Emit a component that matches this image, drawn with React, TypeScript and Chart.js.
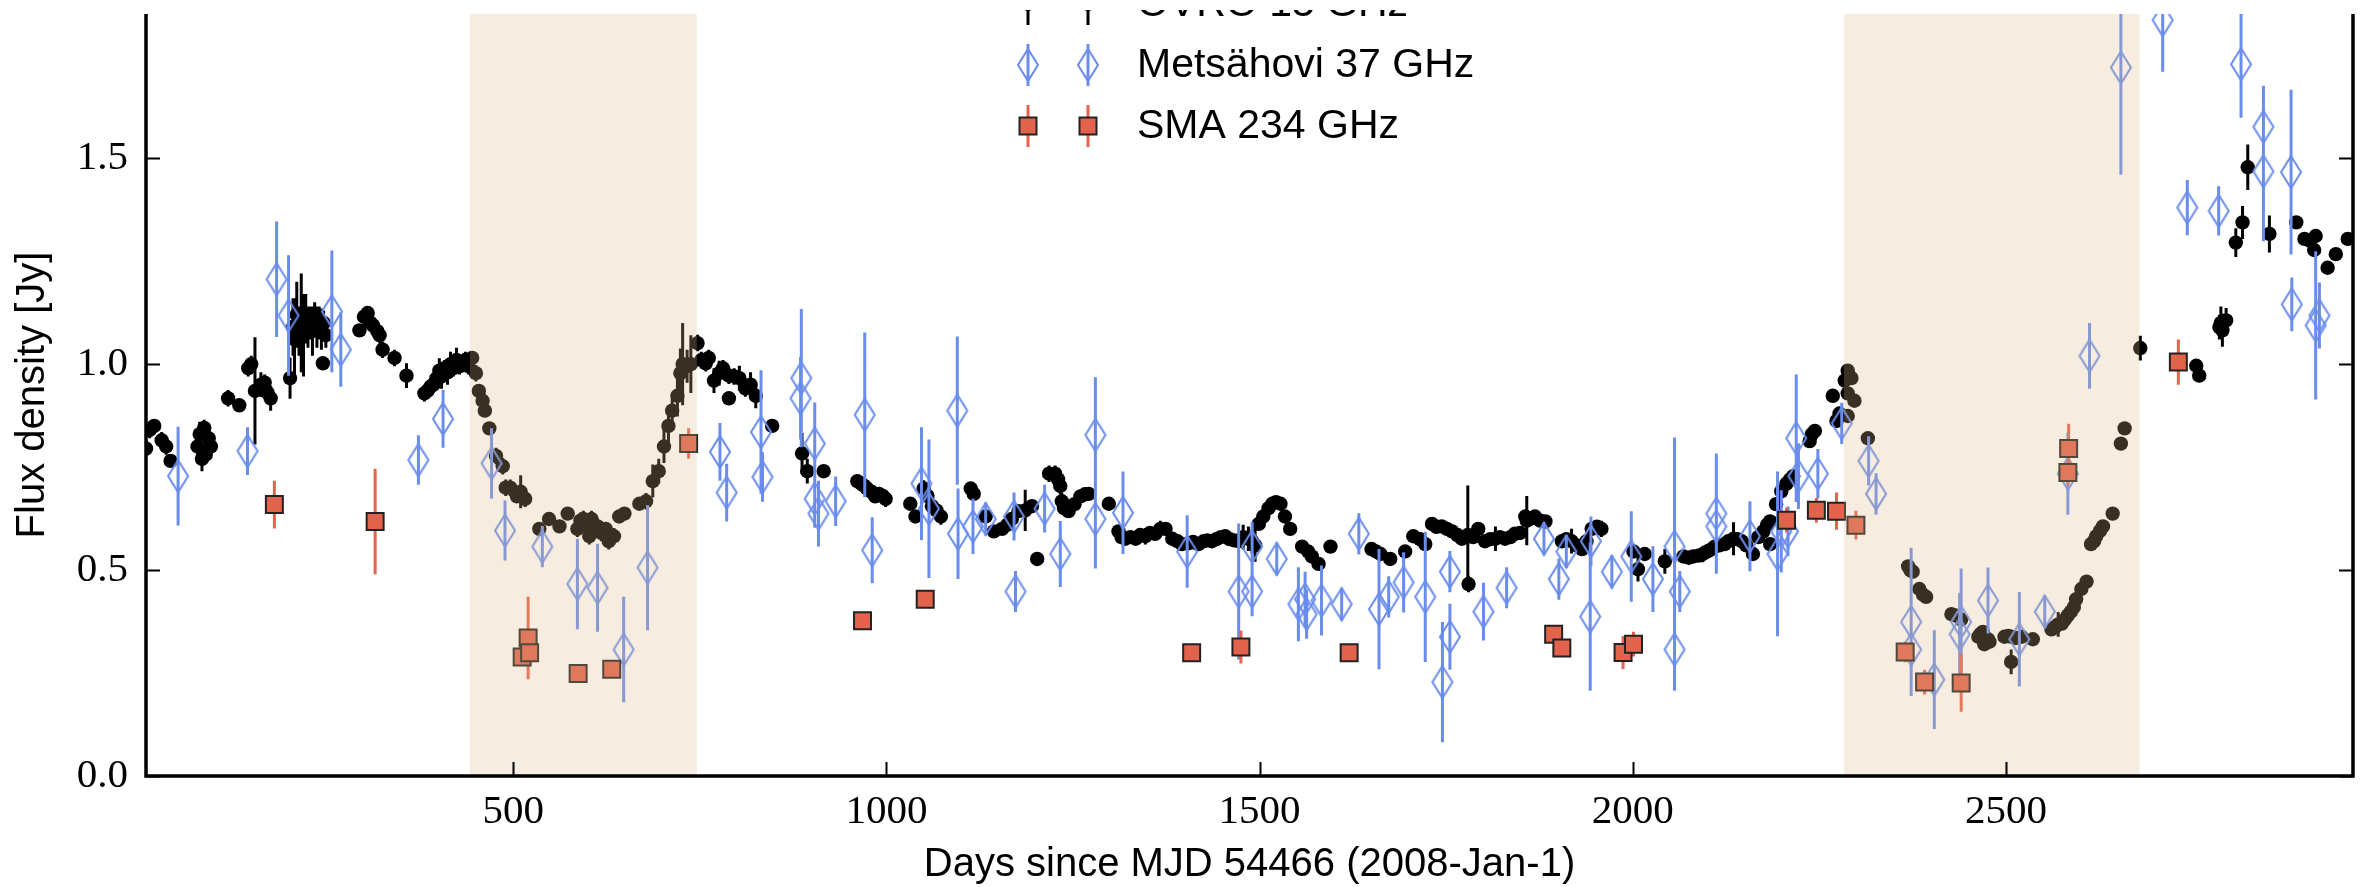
import React, { useEffect, useRef } from 'react';
import { Chart, registerables } from 'chart.js';

Chart.register(...registerables);

// [day, flux density (Jy), error]
const ovro: [number, number, number][] = [
  [8,0.795,0.02],[13,0.84,0.02],[19,0.85,0.015],[29,0.815,0.02],[35,0.80,0.02],[41,0.765,0.015],[77,0.80,0.02],[80,0.83,0.03],[83,0.77,0.03],[86,0.845,0.02],[88,0.78,0.02],[92,0.82,0.03],[95,0.80,0.02],
  [118,0.917,0.02],[133,0.90,0.012],[145,0.99,0.02],[149,1.0,0.02],[154,0.935,0.13],[162,0.95,0.03],[167,0.955,0.02],[171,0.93,0.02],[175,0.917,0.03],
  [201,0.966,0.05],[205,1.09,0.07],[207,1.06,0.1],[210,1.12,0.08],[213,1.08,0.06],[216,1.10,0.12],[219,1.07,0.1],[222,1.11,0.06],[225,1.09,0.05],[228,1.10,0.04],[231,1.08,0.06],[234,1.11,0.04],[237,1.09,0.05],[240,1.10,0.04],[243,1.085,0.05],[246,1.1,0.03],[249,1.07,0.03],[245,1.002,0.015],
  [294,1.082,0.015],[300,1.115,0.02],[305,1.124,0.015],[309,1.10,0.02],[312,1.094,0.02],[318,1.08,0.02],[321,1.07,0.02],[325,1.035,0.02],[341,1.015,0.02],[357,0.972,0.03],
  [381,0.929,0.02],[385,0.935,0.02],[389,0.945,0.02],[393,0.95,0.02],[397,0.965,0.02],[401,0.984,0.03],[404,0.97,0.03],[408,0.99,0.02],[412,0.98,0.03],[416,1.0,0.03],[420,0.99,0.02],[424,1.01,0.03],[428,0.995,0.02],[432,1.0,0.02],[436,1.01,0.02],[440,0.995,0.02],[445,1.015,0.015],
  [450,0.978,0.02],[454,0.935,0.015],[459,0.911,0.015],[462,0.887,0.015],[468,0.844,0.015],[477,0.777,0.02],[486,0.752,0.02],[490,0.70,0.02],[496,0.70,0.02],[505,0.679,0.015],[510,0.69,0.04],[516,0.673,0.02],
  [535,0.60,0.015],[548,0.624,0.015],[562,0.606,0.015],[573,0.637,0.015],[586,0.60,0.02],[590,0.62,0.02],[594,0.624,0.02],[598,0.61,0.02],[602,0.582,0.02],[605,0.624,0.02],[609,0.60,0.02],[613,0.606,0.02],[618,0.59,0.02],[624,0.60,0.015],[628,0.57,0.02],[635,0.582,0.02],[642,0.63,0.015],[649,0.637,0.015],[669,0.661,0.015],[678,0.667,0.02],[687,0.716,0.04],[695,0.74,0.03],[702,0.80,0.04],[708,0.85,0.05],[713,0.887,0.03],[720,0.923,0.05],[724,0.978,0.06],[727,1.0,0.1],[733,0.995,0.04],[738,1.0,0.07],[747,1.051,0.02],
  [752,1.01,0.02],[758,1.002,0.02],[762,1.015,0.02],[769,0.96,0.03],[776,0.978,0.03],[781,0.99,0.02],[789,0.972,0.02],[789,0.917,0.015],[796,0.97,0.02],[803,0.966,0.03],[811,0.941,0.02],[818,0.95,0.03],[825,0.923,0.03],[847,0.85,0.015],[887,0.783,0.05],[894,0.74,0.03],[916,0.74,0.015],
  [961,0.716,0.015],[966,0.71,0.015],[970,0.705,0.015],[974,0.698,0.02],[980,0.69,0.015],[985,0.679,0.015],[990,0.685,0.015],[995,0.68,0.015],[999,0.673,0.02],
  [1032,0.661,0.015],[1039,0.63,0.015],[1050,0.698,0.02],[1055,0.68,0.015],[1061,0.655,0.015],[1067,0.645,0.015],[1073,0.63,0.02],
  [1113,0.698,0.015],[1117,0.685,0.015],[1133,0.63,0.015],[1144,0.594,0.015],[1155,0.60,0.015],[1162,0.61,0.015],[1168,0.624,0.015],[1177,0.643,0.015],[1186,0.645,0.05],[1195,0.655,0.015],[1202,0.527,0.015],
  [1218,0.734,0.02],[1226,0.734,0.02],[1230,0.72,0.02],[1233,0.704,0.02],[1235,0.667,0.02],[1238,0.65,0.015],[1244,0.643,0.015],[1252,0.66,0.015],[1260,0.679,0.015],[1266,0.684,0.015],[1271,0.685,0.015],
  [1298,0.661,0.015],[1311,0.594,0.015],[1315,0.58,0.015],[1320,0.576,0.015],[1327,0.58,0.015],[1334,0.576,0.015],[1340,0.585,0.015],[1347,0.582,0.02],[1353,0.59,0.015],[1360,0.588,0.015],[1367,0.60,0.02],[1374,0.60,0.015],[1383,0.576,0.015],[1390,0.57,0.015],[1396,0.563,0.015],[1405,0.565,0.015],[1411,0.568,0.015],[1418,0.563,0.015],[1425,0.57,0.015],[1430,0.572,0.015],[1436,0.57,0.015],[1442,0.575,0.015],[1448,0.58,0.015],[1454,0.582,0.015],[1460,0.575,0.015],[1466,0.572,0.015],[1472,0.57,0.015],[1478,0.58,0.03],[1485,0.576,0.03],[1490,0.57,0.03],[1494,0.56,0.04],
  [1499,0.612,0.015],[1505,0.63,0.015],[1512,0.65,0.015],[1517,0.661,0.015],[1522,0.665,0.015],[1528,0.661,0.015],[1534,0.63,0.015],[1541,0.60,0.015],[1557,0.557,0.015],[1565,0.545,0.015],[1570,0.533,0.015],[1579,0.515,0.015],[1595,0.557,0.015],
  [1650,0.551,0.015],[1656,0.545,0.015],[1662,0.539,0.015],[1675,0.527,0.015],[1695,0.545,0.015],[1706,0.582,0.015],[1715,0.575,0.015],[1722,0.563,0.015],[1731,0.612,0.015],[1737,0.605,0.015],[1744,0.606,0.015],[1751,0.60,0.015],[1758,0.594,0.015],[1765,0.585,0.015],[1771,0.576,0.015],[1779,0.585,0.12],[1780,0.466,0.02],[1786,0.58,0.015],[1793,0.60,0.015],[1802,0.57,0.015],[1809,0.575,0.015],[1816,0.576,0.03],[1822,0.58,0.015],[1829,0.576,0.015],[1836,0.58,0.015],[1842,0.588,0.015],[1849,0.59,0.015],[1856,0.63,0.015],[1858,0.62,0.06],[1863,0.625,0.015],[1869,0.63,0.015],[1876,0.62,0.015],[1883,0.618,0.015],[1905,0.57,0.015],[1911,0.575,0.015],[1918,0.57,0.03],[1925,0.56,0.015],[1932,0.551,0.015],[1938,0.57,0.015],[1945,0.60,0.015],[1952,0.605,0.015],[1958,0.60,0.02],
  [2001,0.545,0.015],[2007,0.502,0.03],[2016,0.539,0.015],[2043,0.521,0.03],[2068,0.533,0.015],[2075,0.53,0.015],[2081,0.533,0.015],[2088,0.535,0.015],[2094,0.539,0.02],[2100,0.545,0.015],[2105,0.55,0.015],[2110,0.557,0.015],[2116,0.56,0.015],[2123,0.563,0.015],[2128,0.57,0.015],[2135,0.576,0.04],[2140,0.575,0.015],[2146,0.57,0.015],[2152,0.56,0.015],[2161,0.539,0.015],[2168,0.58,0.015],[2175,0.594,0.015],[2180,0.61,0.015],[2184,0.618,0.015],[2184,0.563,0.015],[2192,0.66,0.015],[2199,0.691,0.015],[2206,0.71,0.015],[2211,0.72,0.015],[2215,0.728,0.015],[2237,0.813,0.015],[2240,0.83,0.015],[2244,0.838,0.015],[2268,0.923,0.015],[2273,0.862,0.015],[2277,0.88,0.015],[2284,0.96,0.015],[2288,0.984,0.015],[2290,0.97,0.015],[2293,0.966,0.015],[2288,0.929,0.015],[2297,0.911,0.015],[2288,0.874,0.015],[2315,0.82,0.015],
  [2369,0.509,0.015],[2372,0.50,0.015],[2375,0.496,0.015],[2384,0.454,0.015],[2389,0.44,0.015],[2393,0.435,0.015],[2427,0.393,0.015],[2432,0.39,0.015],[2440,0.38,0.015],[2463,0.338,0.015],[2466,0.345,0.015],[2469,0.35,0.015],[2471,0.32,0.015],[2476,0.332,0.015],[2478,0.326,0.015],
  [2498,0.338,0.015],[2503,0.34,0.015],[2507,0.277,0.03],[2507,0.338,0.015],[2513,0.335,0.015],[2521,0.338,0.015],[2536,0.332,0.015],[2561,0.356,0.015],[2566,0.362,0.015],[2570,0.368,0.03],[2575,0.37,0.015],[2579,0.38,0.015],[2583,0.39,0.015],[2587,0.399,0.015],[2591,0.41,0.015],[2594,0.429,0.015],[2601,0.454,0.015],[2608,0.472,0.015],[2614,0.563,0.015],[2618,0.57,0.015],[2621,0.582,0.015],[2626,0.595,0.015],[2630,0.606,0.015],[2643,0.637,0.015],[2654,0.807,0.015],[2659,0.844,0.015],
  [2680,1.039,0.03],[2755,0.996,0.015],[2759,0.972,0.015],[2786,1.09,0.03],[2788,1.10,0.04],[2790,1.082,0.04],[2795,1.106,0.03],[2808,1.295,0.035],[2817,1.344,0.04],[2824,1.478,0.055],[2853,1.316,0.045],[2889,1.344,0.015],[2900,1.304,0.015],[2907,1.30,0.015],[2913,1.277,0.015],[2915,1.311,0.015],[2931,1.234,0.015],[2942,1.267,0.015],[2958,1.304,0.015],
];

const metsahovi: [number, number, number][] = [
  [51,0.728,0.12],[144,0.789,0.058],[183,1.206,0.14],[199,1.118,0.146],[257,1.128,0.148],[269,1.035,0.09],[373,0.767,0.06],[406,0.867,0.07],[471,0.759,0.085],[489,0.596,0.073],[539,0.557,0.05],[586,0.466,0.11],[613,0.457,0.107],[648,0.307,0.128],[680,0.506,0.152],[777,0.787,0.07],[786,0.688,0.07],[832,0.835,0.15],[834,0.726,0.06],[886,0.966,0.168],[885,0.917,0.1],[904,0.807,0.1],[904,0.673,0.07],[909,0.637,0.08],[932,0.667,0.06],[971,0.877,0.2],[981,0.548,0.08],
  [1047,0.71,0.137],[1057,0.649,0.168],[1095,0.887,0.18],[1096,0.588,0.11],[1116,0.606,0.067],[1133,0.624,0.04],[1173,0.448,0.05],[1171,0.63,0.058],[1212,0.649,0.058],[1233,0.539,0.08],[1280,0.828,0.14],[1280,0.624,0.12],[1317,0.639,0.1],[1403,0.545,0.088],[1472,0.448,0.165],[1490,0.557,0.06],[1490,0.448,0.06],
  [1523,0.527,0.04],[1552,0.417,0.09],[1561,0.429,0.067],[1563,0.393,0.06],[1583,0.426,0.085],[1610,0.417,0.04],[1633,0.588,0.05],[1660,0.405,0.146],[1673,0.435,0.05],[1693,0.47,0.073],[1722,0.435,0.158],[1745,0.228,0.146],[1755,0.338,0.08],[1755,0.496,0.05],[1800,0.399,0.07],[1831,0.457,0.05],[1881,0.576,0.04],[1901,0.478,0.05],[1911,0.545,0.04],[1943,0.387,0.18],[1944,0.57,0.06],[1972,0.496,0.04],
  [1998,0.533,0.11],[2027,0.478,0.08],[2056,0.557,0.265],[2056,0.307,0.1],[2063,0.448,0.05],[2112,0.637,0.146],[2112,0.606,0.07],[2157,0.582,0.085],[2194,0.539,0.2],[2199,0.594,0.1],[2208,0.594,0.06],[2219,0.82,0.155],[2222,0.728,0.08],[2248,0.734,0.06],[2280,0.856,0.05],[2316,0.765,0.06],[2326,0.685,0.05],[2373,0.374,0.18],[2373,0.307,0.1],[2404,0.234,0.12],[2440,0.374,0.13],[2438,0.344,0.1],[2476,0.426,0.08],
  [2518,0.332,0.115],[2552,0.399,0.04],[2583,0.734,0.1],[2612,1.02,0.08],[2654,1.72,0.26],[2710,1.835,0.125],[2743,1.38,0.067],[2785,1.372,0.06],[2815,1.728,0.13],[2845,1.576,0.1],[2845,1.468,0.17],[2882,1.466,0.2],[2883,1.145,0.065],[2915,1.094,0.18],[2920,1.118,0.08],
];

const sma: [number, number, number][] = [
  [180,0.659,0.058],[315,0.618,0.128],[512,0.289,0.02],[520,0.335,0.1],[522,0.299,0.02],[587,0.249,0.01],[632,0.259,0.012],[735,0.807,0.037],[968,0.377,0.02],[1052,0.429,0.02],[1409,0.299,0.01],[1475,0.313,0.04],[1620,0.299,0.02],[1894,0.344,0.01],[1905,0.311,0.01],[1987,0.30,0.04],[2001,0.32,0.03],[2206,0.621,0.03],[2246,0.645,0.03],[2273,0.643,0.045],[2299,0.609,0.035],[2365,0.301,0.025],[2391,0.228,0.03],[2440,0.226,0.07],[2583,0.737,0.03],[2584,0.795,0.06],[2731,1.005,0.055],
];

// shaded intervals [start day, end day]
const shadedSpans: [number, number][] = [[442, 746], [2283, 2679]];

const xTicks = [500, 1000, 1500, 2000, 2500];
const yTicks = [0.0, 0.5, 1.0, 1.5];
const xRange = [8, 2965];
const yRange = [0, 1.85];

const seriesLabels = ['OVRO 15 GHz', 'Metsähovi 37 GHz', 'SMA 234 GHz'];

const W = 2367;
const H = 887;
const BLUE = 'rgb(106,141,236)';
const RED_FILL = 'rgb(226,98,76)';
const RED_ERR = 'rgb(232,98,78)';
const SANS = "'Liberation Sans', Arial, Helvetica, sans-serif";
const SERIF = "'Liberation Serif', 'DejaVu Serif', serif";

function makeDiamond(): HTMLCanvasElement {
  const c = document.createElement('canvas');
  c.width = 26; c.height = 38;
  const g = c.getContext('2d')!;
  g.strokeStyle = BLUE;
  g.lineWidth = 2;
  g.beginPath();
  g.moveTo(13, 3); g.lineTo(23, 19); g.lineTo(13, 35); g.lineTo(3, 19); g.closePath();
  g.stroke();
  return c;
}

export default function App() {
  const ref = useRef<HTMLCanvasElement>(null);
  useEffect(() => {
    const canvas = ref.current!;
    const diamond = makeDiamond();

    const errorBars = {
      id: 'errorBars',
      beforeDatasetDraw(chart: any, args: any) {
        const ds = chart.data.datasets[args.index];
        if (!ds.errs) return;
        const { ctx, chartArea: a, scales } = chart;
        ctx.save();
        ctx.beginPath();
        ctx.rect(a.left, a.top, a.right - a.left, a.bottom - a.top);
        ctx.clip();
        ctx.strokeStyle = ds.errColor;
        ctx.lineWidth = 3;
        ctx.beginPath();
        ds.data.forEach((p: any, i: number) => {
          const px = scales.x.getPixelForValue(p.x);
          ctx.moveTo(px, scales.y.getPixelForValue(p.y - ds.errs[i]));
          ctx.lineTo(px, scales.y.getPixelForValue(p.y + ds.errs[i]));
        });
        ctx.stroke();
        ctx.restore();
      },
    };

    const decor = {
      id: 'decor',
      afterDatasetsDraw(chart: any) {
        const { ctx, chartArea: a, scales } = chart;
        ctx.save();
        ctx.fillStyle = 'rgba(222,184,135,0.26)';
        shadedSpans.forEach(([s, e]) => {
          const x0 = scales.x.getPixelForValue(s);
          const x1 = scales.x.getPixelForValue(e);
          ctx.fillRect(x0, a.top, x1 - x0, a.bottom - a.top);
        });
        ctx.restore();
      },
      afterDraw(chart: any) {
        const { ctx, chartArea: a, scales } = chart;
        ctx.save();
        // spines (left, bottom, right)
        ctx.strokeStyle = '#000';
        ctx.lineWidth = 3.5;
        ctx.beginPath();
        ctx.moveTo(a.left, a.top); ctx.lineTo(a.left, a.bottom); ctx.lineTo(a.right, a.bottom); ctx.lineTo(a.right, a.top);
        ctx.stroke();
        // inward ticks
        ctx.lineWidth = 2;
        ctx.beginPath();
        yTicks.forEach((v) => {
          const py = Math.round(scales.y.getPixelForValue(v)) + 0.5;
          ctx.moveTo(a.left, py); ctx.lineTo(a.left + 14, py);
          ctx.moveTo(a.right, py); ctx.lineTo(a.right - 14, py);
        });
        xTicks.forEach((v) => {
          const px = Math.round(scales.x.getPixelForValue(v)) + 0.5;
          ctx.moveTo(px, a.bottom); ctx.lineTo(px, a.bottom - 14);
        });
        ctx.stroke();

        // legend
        const mx = [1028, 1088];
        const rows = [4, 65, 126];
        rows.forEach((cy, r) => {
          mx.forEach((x) => {
            ctx.lineWidth = 3;
            ctx.strokeStyle = r === 0 ? '#000' : r === 1 ? BLUE : RED_ERR;
            ctx.beginPath(); ctx.moveTo(x, cy - 21); ctx.lineTo(x, cy + 21); ctx.stroke();
            if (r === 0) {
              ctx.fillStyle = '#000';
              ctx.beginPath(); ctx.arc(x, cy, 7, 0, Math.PI * 2); ctx.fill();
            } else if (r === 1) {
              ctx.drawImage(diamond, x - diamond.width / 2, cy - diamond.height / 2);
            } else {
              ctx.fillStyle = RED_FILL;
              ctx.fillRect(x - 8.5, cy - 8.5, 17, 17);
              ctx.lineWidth = 2;
              ctx.strokeStyle = '#222';
              ctx.strokeRect(x - 8.5, cy - 8.5, 17, 17);
            }
          });
          ctx.fillStyle = '#000';
          ctx.font = `41px ${SANS}`;
          ctx.textBaseline = 'middle';
          ctx.textAlign = 'left';
          ctx.fillText(seriesLabels[r], 1137, cy + 1);
        });
        // blank band above the axes
        ctx.fillStyle = '#fff';
        ctx.fillRect(0, 0, W, 10);
        ctx.restore();
      },
    };

    const toPts = (arr: [number, number, number][]) => arr.map(([x, y]) => ({ x, y }));

    const chart = new Chart(canvas, {
      type: 'scatter',
      data: {
        datasets: [
          {
            label: seriesLabels[0],
            data: toPts(ovro),
            errs: ovro.map((p) => p[2]),
            errColor: '#000',
            order: 3,
            pointStyle: 'circle',
            pointRadius: 7.2,
            pointBackgroundColor: '#000',
            pointBorderWidth: 0,
            borderColor: '#000',
          } as any,
          {
            label: seriesLabels[1],
            data: toPts(metsahovi),
            errs: metsahovi.map((p) => p[2]),
            errColor: BLUE,
            order: 2,
            pointStyle: diamond,
            pointRadius: 10,
            borderColor: BLUE,
          } as any,
          {
            label: seriesLabels[2],
            data: toPts(sma),
            errs: sma.map((p) => p[2]),
            errColor: RED_ERR,
            order: 1,
            pointStyle: 'rect',
            pointRadius: 12,
            pointBackgroundColor: RED_FILL,
            pointBorderColor: '#222',
            pointBorderWidth: 2,
          } as any,
        ],
      },
      options: {
        responsive: false,
        animation: false,
        devicePixelRatio: 1,
        layout: { padding: { top: 11, right: 11, left: 0, bottom: 0 } },
        plugins: { legend: { display: false }, tooltip: { enabled: false } },
        scales: {
          x: {
            type: 'linear',
            min: xRange[0],
            max: xRange[1],
            grid: { display: false, drawTicks: false },
            border: { display: false },
            afterBuildTicks: (s: any) => { s.ticks = xTicks.map((v) => ({ value: v })); },
            afterFit: (s: any) => { s.height = 111; s.paddingLeft = 0; s.paddingRight = 0; },
            ticks: {
              color: '#000',
              padding: 12,
              maxRotation: 0,
              font: { family: SERIF, size: 41 },
              callback: (v: any) => String(v),
            },
            title: {
              display: true,
              text: 'Days since MJD 54466 (2008-Jan-1)',
              color: '#000',
              font: { family: SANS, size: 40, lineHeight: 1.1 },
              padding: { top: 0, bottom: 0 },
            },
          },
          y: {
            type: 'linear',
            min: yRange[0],
            max: yRange[1],
            grid: { display: false, drawTicks: false },
            border: { display: false },
            afterBuildTicks: (s: any) => { s.ticks = yTicks.map((v) => ({ value: v })); },
            afterFit: (s: any) => { s.width = 146; s.paddingTop = 0; s.paddingBottom = 0; },
            ticks: {
              color: '#000',
              padding: 18,
              font: { family: SERIF, size: 41 },
              callback: (v: any) => Number(v).toFixed(1),
            },
            title: {
              display: true,
              text: 'Flux density [Jy]',
              color: '#000',
              font: { family: SANS, size: 40, lineHeight: 1.2 },
              padding: { top: 9, bottom: 0 },
            },
          },
        },
      },
      plugins: [errorBars, decor],
    } as any);
    return () => chart.destroy();
  }, []);

  return (
    <div style={{ position: 'fixed', left: 0, top: 0, width: W, height: H, background: '#fff' }}>
      <canvas ref={ref} width={W} height={H} style={{ display: 'block', width: W, height: H }} />
    </div>
  );
}
